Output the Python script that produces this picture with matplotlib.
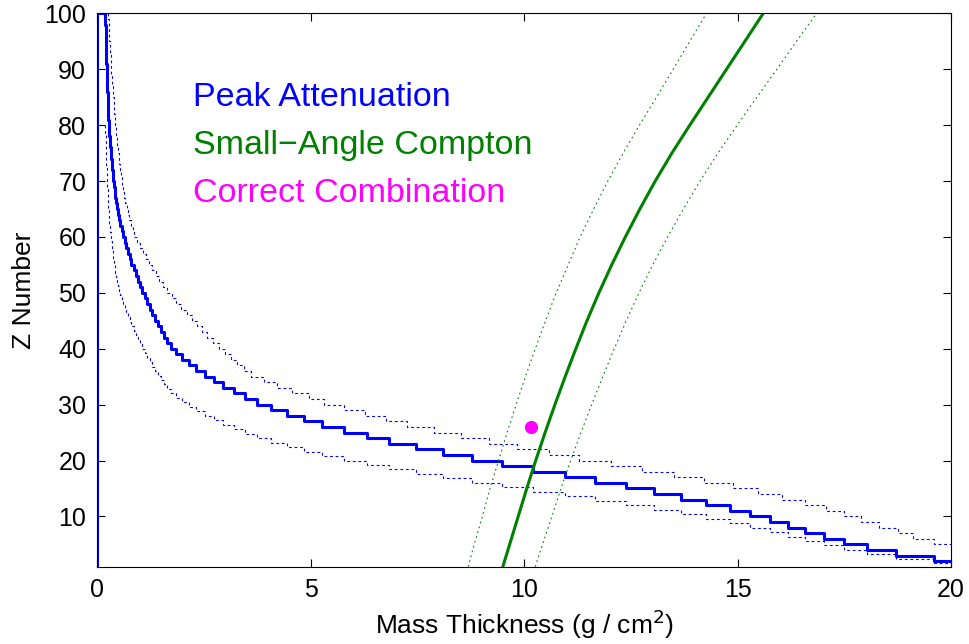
import numpy as np
import matplotlib
matplotlib.use("Agg")
import matplotlib.pyplot as plt

plt.rcParams['font.family'] = ['Liberation Sans', 'DejaVu Sans']

# peak attenuation: thickness (g/cm2) where each Z step starts, Z = 2..100
peak_z = list(range(2, 101))
peak_t = [19.59, 18.72, 18.04, 17.48, 17.03, 16.58, 16.17, 15.76, 15.29, 14.82,
          14.27, 13.67, 13.04, 12.38, 11.66, 10.95, 10.21, 9.47, 8.77, 8.10,
          7.46, 6.83, 6.31, 5.78, 5.27, 4.84, 4.45, 4.08, 3.74, 3.47,
          3.20, 2.95, 2.73, 2.52, 2.32, 2.14, 1.99, 1.85, 1.72, 1.64,
          1.56, 1.49, 1.42, 1.35, 1.29, 1.23, 1.17, 1.11, 1.05, 1.00,
          0.95, 0.90, 0.85, 0.80, 0.76, 0.72, 0.68, 0.64, 0.60, 0.57,
          0.54, 0.51, 0.485, 0.46, 0.44, 0.42, 0.405, 0.39, 0.375, 0.36,
          0.35, 0.34, 0.325, 0.315, 0.305, 0.295, 0.285, 0.275, 0.265, 0.26,
          0.255, 0.25, 0.245, 0.24, 0.235, 0.23, 0.226, 0.222, 0.218, 0.214,
          0.21, 0.207, 0.204, 0.201, 0.198, 0.195, 0.192, 0.189, 0.186]
# lower bound: same thickness steps, lower Z levels
peak_low_z = [1.6, 2.4, 3.2, 4.0, 4.8, 5.6, 6.4, 7.2, 8.0, 8.8,
              9.6, 10.4, 11.2, 12.0, 12.8, 13.6, 14.4, 15.2, 16.0, 16.8,
              17.6, 18.4, 19.2, 20.0, 20.8, 21.6, 22.4, 23.2, 24.0, 24.8,
              25.6, 26.4, 27.2, 28.0, 28.8, 29.6, 30.4, 31.2, 32.0, 32.8,
              33.6, 34.4, 35.2, 36.0, 36.8, 37.6, 38.4, 39.2, 40.0, 40.8,
              41.6, 42.4, 43.2, 44.0, 44.8, 45.6, 46.4, 47.2, 48.0, 48.8,
              49.6, 50.4, 51.2, 52.0, 52.8, 53.6, 54.4, 55.2, 56.0, 56.8,
              57.6, 58.4, 59.2, 60.0, 60.8, 61.6, 62.4, 63.2, 64.0, 64.8,
              65.6, 66.4, 67.2, 68.0, 68.8, 69.6, 70.4, 71.2, 72.0, 72.8,
              73.6, 74.4, 75.2, 76.0, 76.8, 77.6, 78.4, 79.2, 80.0]
# upper bound: Z = 5..100
peak_up_z = list(range(5, 101))
peak_up_t = [19.61, 19.10, 18.75, 18.32, 17.89, 17.50, 17.07, 16.58, 16.05, 15.48,
             14.88, 14.22, 13.51, 12.77, 12.03, 11.28, 10.58, 9.84, 9.17, 8.51,
             7.89, 7.26, 6.76, 6.28, 5.78, 5.31, 4.95, 4.55, 4.21, 3.90,
             3.59, 3.43, 3.28, 3.13, 2.98, 2.84, 2.71, 2.58, 2.45, 2.33,
             2.21, 2.09, 1.97, 1.85, 1.74, 1.63, 1.54, 1.45, 1.37, 1.29,
             1.21, 1.14, 1.07, 1.00, 0.93, 0.87, 0.83, 0.79, 0.75, 0.72,
             0.69, 0.66, 0.63, 0.61, 0.59, 0.57, 0.55, 0.53, 0.51, 0.50,
             0.48, 0.47, 0.455, 0.44, 0.43, 0.42, 0.41, 0.40, 0.39, 0.38,
             0.37, 0.36, 0.35, 0.34, 0.33, 0.32, 0.315, 0.31, 0.30, 0.29,
             0.285, 0.28, 0.27, 0.265, 0.26, 0.25]

# small-angle compton
compton_z = [1, 5, 10, 15, 20, 25, 30, 35, 40, 45, 50,
             55, 60, 65, 70, 75, 80, 85, 90, 95, 100]
compton_t = [9.50, 9.66, 9.86, 10.06, 10.27, 10.49, 10.72, 10.96, 11.21, 11.47, 11.75,
             12.05, 12.37, 12.71, 13.07, 13.46, 13.88, 14.31, 14.74, 15.17, 15.60]
compton_lo = [8.69, 8.83, 9.02, 9.20, 9.40, 9.60, 9.81, 10.03, 10.26, 10.50, 10.75,
              11.03, 11.31, 11.63, 11.96, 12.32, 12.70, 13.10, 13.49, 13.88, 14.27]
compton_hi = [10.26, 10.43, 10.65, 10.86, 11.09, 11.33, 11.58, 11.84, 12.11, 12.39, 12.69,
              13.01, 13.36, 13.73, 14.12, 14.54, 14.99, 15.45, 15.92, 16.38, 16.85]

# correct answer
true_t, true_z = 10.16, 26

fig = plt.figure(figsize=(9.7, 6.44), dpi=100)
ax = fig.add_axes([0.1003, 0.12, 0.8802, 0.8593])

x = np.r_[0, 0, peak_t[::-1], 20.6]
y = np.r_[1, 100, peak_z[::-1], 1]
ax.step(x, y, where='post', color='blue', lw=2.2)
ax.step(np.r_[peak_t[::-1], 20.6], np.r_[peak_low_z[::-1], 0.8],
        where='post', color='blue', lw=0.8, ls=(0, (2.5, 2.5)))
ax.step(np.r_[peak_up_t[::-1], 20.6], np.r_[peak_up_z[::-1], 4],
        where='post', color='blue', lw=0.8, ls=(0, (2.5, 2.5)))

green = '#008000'
ax.plot(compton_t, compton_z, color=green, lw=2.2)
ax.plot(compton_lo, compton_z, color=green, lw=0.8, ls=(0, (1.5, 3)))
ax.plot(compton_hi, compton_z, color=green, lw=0.8, ls=(0, (1.5, 3)))

ax.plot(true_t, true_z, 'o', color='magenta', ms=8.5)

ax.text(2.25, 84.9, 'Peak Attenuation', color='blue', fontsize=24.5, va='center')
ax.text(2.25, 76.4, 'Small\u2212Angle Compton', color=green, fontsize=24.5, va='center')
ax.text(2.25, 67.8, 'Correct Combination', color='magenta', fontsize=24.5, va='center')

ax.set_xlim(0, 20)
ax.set_ylim(1, 100)
ax.set_xticks([0, 5, 10, 15, 20])
ax.set_yticks(range(10, 101, 10))
ax.tick_params(direction='in', top=True, right=True, length=6, labelsize=18, pad=8)
ax.set_xlabel('Mass Thickness (g / cm$^2$)', fontsize=19, labelpad=4)
ax.set_ylabel('Z Number', fontsize=19, labelpad=6)

fig.savefig('out.png', dpi=100)
